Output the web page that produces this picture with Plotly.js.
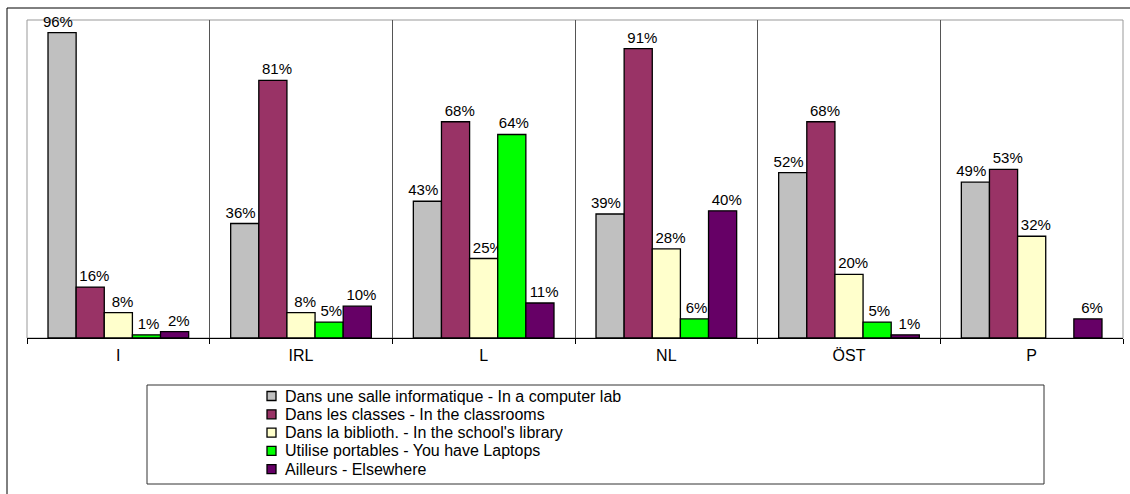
<!DOCTYPE html>
<html>
<head>
<meta charset="utf-8">
<script src="https://cdn.plot.ly/plotly-3.0.1.min.js"></script>
<style>html,body{margin:0;padding:0;background:#fff;}#chart{width:1130px;height:494px;}</style>
</head>
<body>
<div id="chart"></div>
<script>
const categories = ["I", "IRL", "L", "NL", "ÖST", "P"];
const seriesNames = [
  "Dans une salle informatique - In a computer lab",
  "Dans les classes - In the classrooms",
  "Dans la biblioth. - In the school's library",
  "Utilise portables - You have Laptops",
  "Ailleurs - Elsewhere"
];
const computerLab = [96, 36, 43, 39, 52, 49];
const classrooms = [16, 81, 68, 91, 68, 53];
const library = [8, 8, 25, 28, 20, 32];
const laptops = [1, 5, 64, 6, 5, null];
const elsewhere = [2, 10, 11, 40, 1, 6];
const colors = ["#C0C0C0", "#993366", "#FFFFCC", "#00FF00", "#660066"];

const seriesValues = [computerLab, classrooms, library, laptops, elsewhere];
const pads = [["", "\u00a0\u00a0"], ["\u00a0\u00a0", ""], ["\u00a0\u00a0", ""], ["\u00a0", ""], ["\u00a0\u00a0", ""]];
const FONT = "Liberation Sans, Arial, sans-serif";

const traces = seriesValues.map((vals, i) => ({
  type: "bar",
  name: seriesNames[i],
  x: categories,
  y: vals,
  text: vals.map(v => v == null ? "" : pads[i][0] + v + "%" + pads[i][1]),
  textposition: "outside",
  constraintext: "none",
  cliponaxis: false,
  textfont: {family: FONT, size: 15, color: "#000"},
  marker: {color: colors[i], line: {color: "#000", width: 1.3}},
  hoverinfo: "skip",
  showlegend: false
}));

const L = 27, R = 1123, T = 20, B = 338;
const px = x => (x - L) / (R - L);
const py = y => (B - y) / (B - T);

// legend box drawn with annotations + swatch shapes
const legRow0 = 396, legStep = 18.3, swL = 267, swSize = 9, txtL = 283;
const legendAnnotations = seriesNames.map((name, i) => ({
  xref: "paper", yref: "paper", x: px(txtL), y: py(legRow0 + i * legStep),
  xanchor: "left", yanchor: "middle", text: name, showarrow: false,
  font: {family: FONT, size: 16, color: "#000"}
}));
const legendSwatches = colors.map((c, i) => ({
  type: "rect", xref: "paper", yref: "paper",
  x0: px(swL), x1: px(swL + swSize),
  y0: py(legRow0 + i * legStep + swSize / 2), y1: py(legRow0 + i * legStep - swSize / 2),
  fillcolor: c, line: {color: "#000", width: 1.3}
}));

const layout = {
  width: 1130, height: 494,
  margin: {l: L, r: 1130 - R, t: T, b: 494 - B, pad: 0, autoexpand: false},
  paper_bgcolor: "#fff", plot_bgcolor: "#fff",
  barmode: "group", bargap: 0.23, bargroupgap: 0,
  showlegend: false,
  xaxis: {
    type: "category", tickson: "boundaries", ticks: "outside", ticklen: 5,
    tickcolor: "#000", showline: true, linecolor: "#000", linewidth: 1,
    showgrid: true, gridcolor: "#555", gridwidth: 1, ticklabelstandoff: 3,
    tickfont: {family: FONT, size: 16, color: "#000"}, fixedrange: true
  },
  yaxis: {
    range: [0, 100], showticklabels: false, showgrid: false, zeroline: false,
    showline: false, ticks: "", fixedrange: true
  },
  annotations: legendAnnotations,
  shapes: [
    {type: "rect", xref: "paper", yref: "paper", x0: 0, x1: 1, y0: 0, y1: 1,
     line: {color: "#999", width: 1}, layer: "below"},
    {type: "rect", xref: "paper", yref: "paper", x0: px(147), x1: px(1044), y0: py(484), y1: py(385),
     line: {color: "#333", width: 1}, layer: "below"},
    {type: "line", xref: "paper", yref: "paper", x0: px(7), x1: px(7), y0: py(494), y1: py(8),
     line: {color: "#000", width: 1}, layer: "below"},
    {type: "line", xref: "paper", yref: "paper", x0: px(7), x1: px(1130), y0: py(8), y1: py(8),
     line: {color: "#000", width: 1}, layer: "below"}
  ].concat(legendSwatches)
};

Plotly.newPlot("chart", traces, layout, {displayModeBar: false, staticPlot: true});
</script>
</body>
</html>
